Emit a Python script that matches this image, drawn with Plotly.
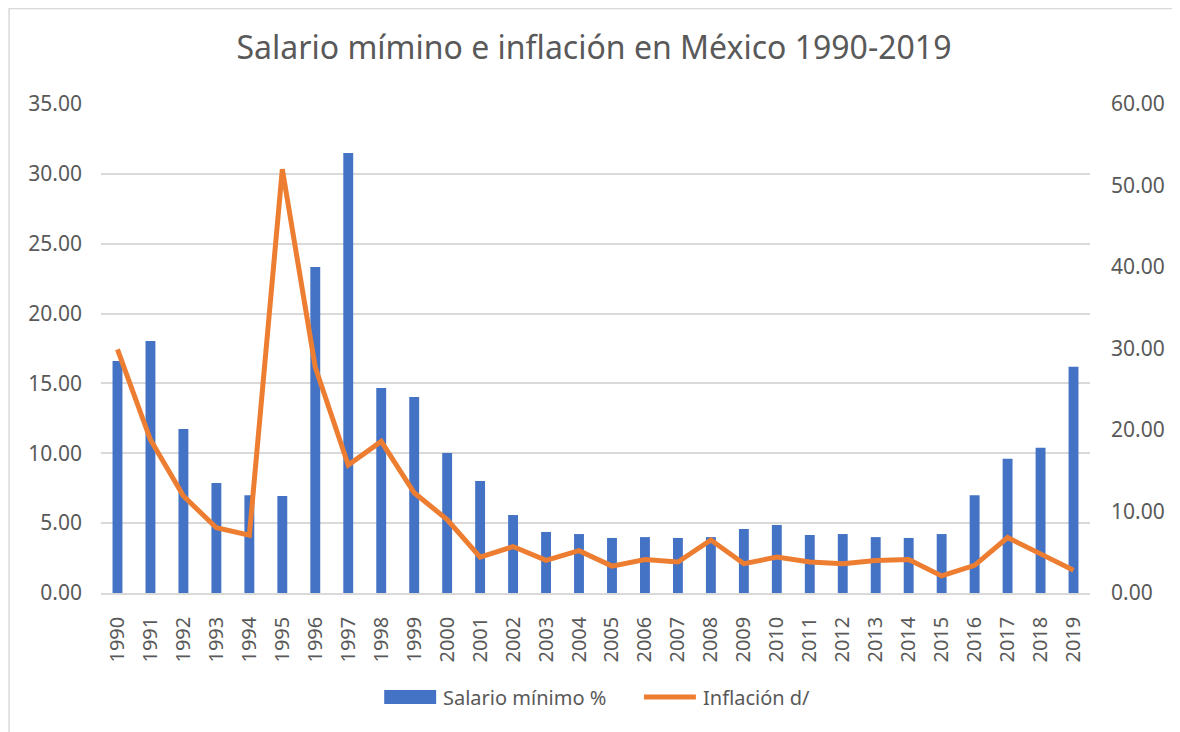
import plotly.graph_objects as go

years = [str(y) for y in range(1990, 2020)]
salario = [16.6, 18.04, 11.74, 7.87, 7.0, 6.94, 23.34, 31.5, 14.67, 14.03,
           10.02, 8.02, 5.58, 4.37, 4.22, 3.94, 4.0, 3.94, 4.0, 4.58,
           4.87, 4.15, 4.22, 4.0, 3.94, 4.22, 7.0, 9.6, 10.4, 16.2]
inflacion = [29.9, 18.8, 11.9, 8.0, 7.1, 52.0, 27.7, 15.7, 18.6, 12.3,
             9.0, 4.4, 5.7, 4.0, 5.2, 3.3, 4.1, 3.8, 6.5, 3.6,
             4.4, 3.8, 3.6, 4.0, 4.1, 2.1, 3.4, 6.8, 4.8, 2.8]
series_names = ["Salario mínimo %", "Inflación d/"]

FONT = "Noto Sans"
GREY = "#595959"
BLUE = "#4472C4"
ORANGE = "#ED7D31"

# figure geometry (page body has an 8px margin, so figure is 8px smaller)
W, H = 1172, 724
L, R, T, B = 92.5, 89.5, 96, 139
PW = W - L - R
PH = H - T - B


def px(x):
    return (x - L) / PW


def py(y):
    return (H - B - y) / PH


fig = go.Figure()
fig.add_trace(go.Bar(x=years, y=salario, name=series_names[0],
                     marker=dict(color=BLUE, line=dict(width=0)),
                     width=0.3, yaxis="y", showlegend=False))
fig.add_trace(go.Scatter(x=years, y=inflacion, name=series_names[1],
                         mode="lines", line=dict(color=ORANGE, width=5),
                         yaxis="y2", showlegend=False))

fig.update_layout(
    width=W, height=H,
    margin=dict(l=L, r=R, t=T, b=B, autoexpand=False),
    paper_bgcolor="white", plot_bgcolor="white",
    font=dict(family=FONT, color=GREY, size=20),
    title=dict(text="Salario mímino e inflación en México 1990-2019",
               x=0.5, xanchor="center", y=1 - 40 / H, yanchor="middle",
               font=dict(family=FONT, size=32, color=GREY)),
    xaxis=dict(type="category", tickangle=-90, showgrid=False,
               showline=True, linecolor="#D9D9D9", linewidth=1.5,
               ticks="", ticklabelstandoff=14,
               tickfont=dict(size=20, color=GREY)),
    yaxis=dict(range=[0, 35], dtick=5, tickformat=".2f",
               gridcolor="#D9D9D9", gridwidth=1.5, zeroline=False,
               showline=False, ticks="", ticklabelstandoff=18,
               tickfont=dict(size=21, color=GREY)),
    yaxis2=dict(range=[0, 60], dtick=10, tickformat=".2f",
                overlaying="y", side="right", showgrid=False,
                zeroline=False, showline=False, ticks="",
                ticklabelstandoff=20,
                tickfont=dict(size=21, color=GREY)),
    showlegend=False,
)

# outer chart border
fig.add_shape(type="rect", xref="paper", yref="paper",
              x0=px(0.5), x1=px(W + 20), y0=py(H + 20), y1=py(0.5),
              line=dict(color="#D9D9D9", width=1.5),
              fillcolor="rgba(0,0,0,0)", layer="below")

# custom legend (Excel style)
ly = 689
fig.add_shape(type="rect", xref="paper", yref="paper",
              x0=px(376), x1=px(428), y0=py(696), y1=py(682),
              line=dict(width=0), fillcolor=BLUE)
fig.add_annotation(x=px(433), y=py(ly), xref="paper", yref="paper",
                   text=series_names[0], showarrow=False,
                   xanchor="left", yanchor="middle",
                   font=dict(size=20, color=GREY, family=FONT))
fig.add_shape(type="line", xref="paper", yref="paper",
              x0=px(636), x1=px(688), y0=py(ly), y1=py(ly),
              line=dict(color=ORANGE, width=5))
fig.add_annotation(x=px(693), y=py(ly), xref="paper", yref="paper",
                   text=series_names[1], showarrow=False,
                   xanchor="left", yanchor="middle",
                   font=dict(size=20, color=GREY, family=FONT))

fig.write_html("out.html")
